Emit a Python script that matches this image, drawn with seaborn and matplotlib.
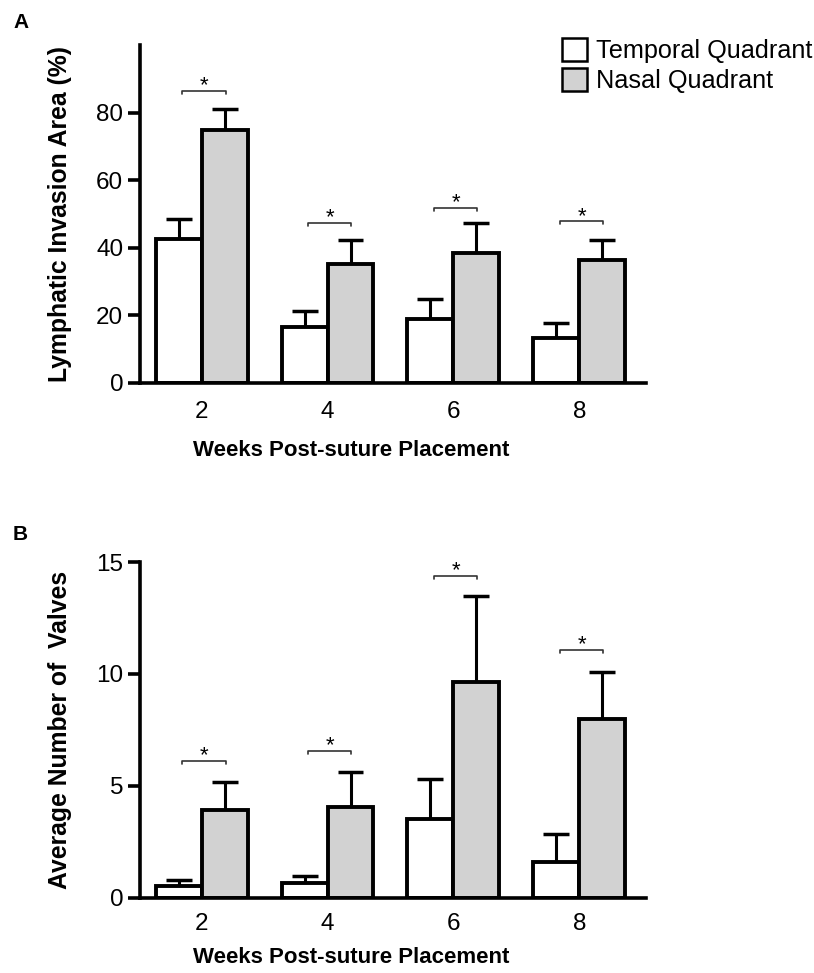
import numpy as np
import pandas as pd
import matplotlib
matplotlib.use("Agg")
import matplotlib.pyplot as plt
import seaborn as sns
from matplotlib.patches import Patch

# ---------------- data ----------------
weeks = ["2", "4", "6", "8"]
quadrants = ["Temporal Quadrant", "Nasal Quadrant"]

area_temporal = [42.6, 16.7, 18.9, 13.2]
area_nasal = [74.8, 35.3, 38.5, 36.3]
area_temporal_err = [5.9, 4.7, 6.0, 4.5]
area_nasal_err = [6.4, 7.1, 8.8, 6.1]
area_bracket = [86.4, 47.4, 51.8, 47.8]

valves_temporal = [0.52, 0.68, 3.51, 1.62]
valves_nasal = [3.93, 4.05, 9.66, 7.98]
valves_temporal_err = [0.27, 0.32, 1.80, 1.22]
valves_nasal_err = [1.26, 1.58, 3.82, 2.10]
valves_bracket = [6.12, 6.56, 14.39, 11.07]

area_yticks = [0, 20, 40, 60, 80]
valves_yticks = [0, 5, 10, 15]

palette = {"Temporal Quadrant": "white", "Nasal Quadrant": "#d2d2d2"}

# ---------------- style ----------------
sns.set_style("ticks")
plt.rcParams["font.family"] = ["Liberation Sans", "DejaVu Sans"]
for key in ["text.color", "axes.labelcolor", "xtick.color", "ytick.color",
            "axes.edgecolor"]:
    plt.rcParams[key] = "black"

fig = plt.figure(figsize=(8.14, 9.73), dpi=100)
axA = fig.add_axes([0.1720, 0.6064, 0.6216, 0.3474])
axB = fig.add_axes([0.1720, 0.0771, 0.6216, 0.3453])


def panel(ax, temporal, nasal, terr, nerr, brackets, ylim, yticks, ylabel,
          dbr, xl_y, xpad):
    df = pd.DataFrame({
        "week": weeks * 2,
        "quadrant": [quadrants[0]] * len(weeks) + [quadrants[1]] * len(weeks),
        "value": temporal + nasal,
    })
    sns.barplot(data=df, x="week", y="value", hue="quadrant", order=weeks,
                hue_order=quadrants, palette=palette, saturation=1, width=0.73,
                edgecolor="black", linewidth=2.8, errorbar=None, legend=False,
                ax=ax, zorder=2)
    for cont, err in zip(ax.containers, [terr, nerr]):
        for patch, e in zip(cont.patches, err):
            cx = patch.get_x() + patch.get_width() / 2
            top = patch.get_height()
            ax.vlines(cx, top, top + e, color="black", lw=2.2, zorder=1)
            ax.hlines(top + e, cx - 0.103, cx + 0.103, color="black", lw=2.5,
                      zorder=1)
    for i, b in enumerate(brackets):
        x0, x1 = i - 0.154, i + 0.19
        ax.plot([x0, x0, x1, x1], [b - dbr, b, b, b - dbr], color="#333333",
                lw=1.2, zorder=3)
        ax.annotate("*", xy=((x0 + x1) / 2, b), xytext=(0, -4),
                    textcoords="offset points", ha="center", va="bottom",
                    fontsize=16)

    ax.set_xlim(-0.49, 3.53)
    ax.set_ylim(*ylim)
    ax.set_yticks(yticks)
    sns.despine(ax=ax)
    for s in ["left", "bottom"]:
        ax.spines[s].set_linewidth(2.6)
        ax.spines[s].set_color("black")
    ax.tick_params(axis="y", length=8.6, width=2.6, pad=3.5, labelsize=17.5,
                   direction="out", colors="black")
    ax.tick_params(axis="x", length=0, pad=xpad, labelsize=17.5,
                   colors="black")
    ax.set_xlabel("Weeks Post-suture Placement", fontsize=16,
                  fontweight="bold")
    ax.xaxis.set_label_coords(0.418, xl_y)
    ax.set_ylabel(ylabel, fontsize=17.8, fontweight="bold")
    ax.yaxis.set_label_coords(-0.134, 0.5)


panel(axA, area_temporal, area_nasal, area_temporal_err, area_nasal_err,
      area_bracket, (0, 100), area_yticks, "Lymphatic Invasion Area (%)",
      0.9, -0.169, 13)
panel(axB, valves_temporal, valves_nasal, valves_temporal_err,
      valves_nasal_err, valves_bracket, (0, 15), valves_yticks,
      "Average Number of  Valves", 0.13, -0.146, 10.5)

handles = [Patch(facecolor=palette[q], edgecolor="black", linewidth=1.8)
           for q in quadrants]
fig.legend(handles, quadrants, loc="upper left",
           bbox_to_anchor=(562 / 814, 1 - 38 / 973), frameon=False,
           fontsize=18.2, handlelength=1.0, handleheight=1.0,
           handletextpad=0.35, labelspacing=0.2, borderpad=0,
           borderaxespad=0)

fig.text(0.016, 1 - 13 / 973, "A", fontsize=15, fontweight="bold", va="top")
fig.text(0.016, 1 - 525 / 973, "B", fontsize=15, fontweight="bold", va="top")

fig.savefig("out.png", dpi=100)
